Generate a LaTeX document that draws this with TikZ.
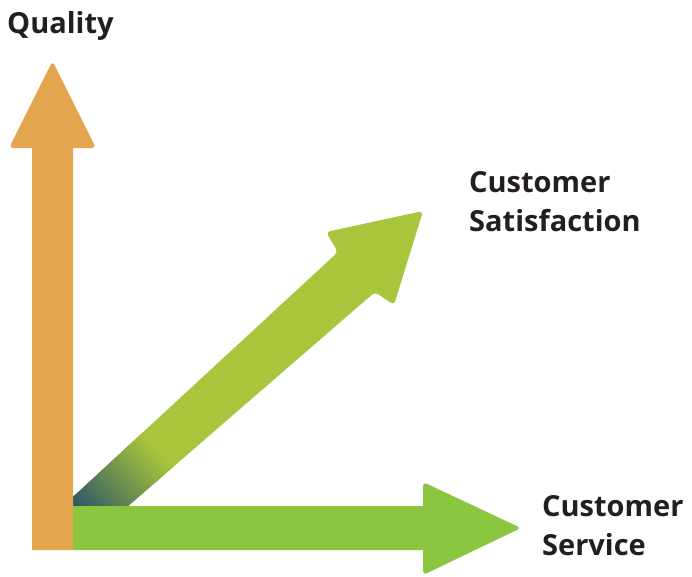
\documentclass[tikz,border=0pt]{standalone}
\usepackage{fontspec}
\setmainfont{Open Sans}
\definecolor{qorange}{HTML}{E3A64F}
\definecolor{dgreen}{HTML}{A8C53B}
\definecolor{hgreen}{HTML}{8BC640}
\definecolor{dkteal}{HTML}{2B5467}
\definecolor{txt}{HTML}{231F20}
\tikzset{
  lbl/.style={anchor=base west, align=left, text=txt, inner sep=0pt,
    font=\fontsize{29}{38.5}\selectfont\bfseries},
}
\begin{document}
\begin{tikzpicture}[x=1pt,y=-1pt]
\useasboundingbox (0,0) rectangle (692,576);
% diagonal arrow
\coordinate (corner) at (73,506);
\fill[dgreen] (73,497) [rounded corners=4] -- (338,252) -- (326,232) -- (423,211) -- (394,305) -- (375,292) [sharp corners] -- (128,506) -- (corner) -- cycle;
\begin{scope}
  \clip (73,497) -- (338,252) -- (375,292) -- (128,506) -- (corner) -- cycle;
  \begin{scope}[shift={(corner)}, rotate=42]
    \foreach \i in {0,...,49}{
      \pgfmathtruncatemacro\p{\i*2}
      \fill[dgreen!\p!dkteal] ({\i*2-2},-80) rectangle ({\i*2+2.6},80);
    }
  \end{scope}
\end{scope}
% quality arrow
\fill[qorange] (32,550) -- (32,148) [rounded corners=4] -- (9,148) -- (52.5,61) -- (96,148) [sharp corners] -- (73,148) -- (73,550) -- cycle;
% horizontal arrow
\fill[hgreen] (73,506) -- (423,506) [rounded corners=4] -- (423,482) -- (521,528) -- (423,575) [sharp corners] -- (423,550) -- (73,550) -- cycle;
% labels
\node[lbl] (q) at (7,33) {Quality};
\node[lbl] (cs) at (469,231) {Customer\\Satisfaction};
\node[lbl] (csv) at (542,555) {Customer\\Service};
\end{tikzpicture}
\end{document}
